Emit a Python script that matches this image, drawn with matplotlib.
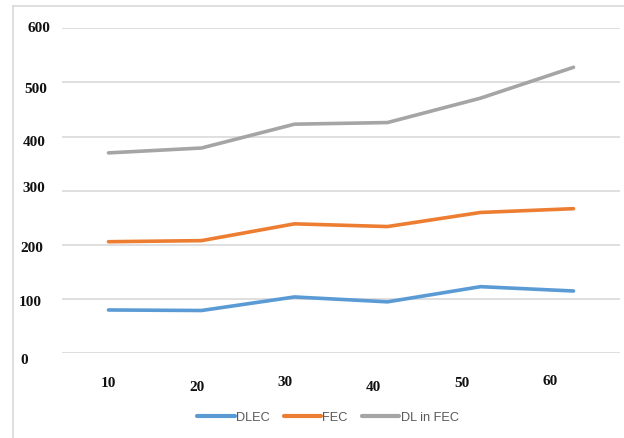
import matplotlib
matplotlib.use("Agg")
import matplotlib.pyplot as plt
import numpy as np
from matplotlib.lines import Line2D
from matplotlib.transforms import blended_transform_factory, ScaledTranslation

# Categories and series values
categories = ["10", "20", "30", "40", "50", "60"]
dlec = [80, 79, 104, 95, 123, 115]
fec = [206, 208, 239, 234, 260, 267]
dl_in_fec = [370, 379, 423, 426, 471, 528]
y_ticks = [0, 100, 200, 300, 400, 500, 600]

series = [
    ("DLEC", dlec, "#5B9BD5"),
    ("FEC", fec, "#ED7D31"),
    ("DL in FEC", dl_in_fec, "#A5A5A5"),
]

W, H, DPI = 624, 439, 100
fig = plt.figure(figsize=(W / DPI, H / DPI), dpi=DPI)
fig.patch.set_facecolor("white")

# Plot area in pixel terms
left_px, right_px, top_px, bottom_px = 62, 620, 29.3, 354.3
ax = fig.add_axes([left_px / W, 1 - bottom_px / H,
                   (right_px - left_px) / W, (bottom_px - top_px) / H])

x = np.arange(len(categories))
for name, vals, color in series:
    ax.plot(x, vals, color=color, lw=2.6, solid_capstyle="round",
            solid_joinstyle="round", label=name, zorder=3)

ax.set_xlim(-0.5, len(categories) - 0.5)
ax.set_ylim(0, 600)
ax.set_yticks(y_ticks)
ax.yaxis.grid(True, color="#D9D9D9", lw=1.2)
ax.set_axisbelow(True)
ax.tick_params(left=False, bottom=False, labelleft=False, labelbottom=False)
for s in ax.spines.values():
    s.set_visible(False)

serif = ["Liberation Serif", "DejaVu Serif"]

# Category labels along the bottom (slightly compressed, staggered row)
x_label_step = 0.95
x_label_dy = [29, 33, 28, 33, 29, 27]
xt = blended_transform_factory(ax.transData, ax.transAxes)
for i, (lab, dy) in enumerate(zip(categories, x_label_dy)):
    ax.text(i * x_label_step, 0, lab,
            transform=xt + ScaledTranslation(0, -dy / DPI, fig.dpi_scale_trans),
            ha="center", va="center", fontsize=11, fontweight="bold",
            family=serif, color="#111111")

# Value labels on the left
y_label_x = [20, 19, 20, 22, 23, 24, 27]
y_label_dy = [6, 2, 3, -3, 5, 6, -0.5]
yt = blended_transform_factory(fig.transFigure, ax.transData)
for v, lx, dy in zip(y_ticks, y_label_x, y_label_dy):
    ax.text(lx / W, v, str(v),
            transform=yt + ScaledTranslation(0, -dy / DPI, fig.dpi_scale_trans),
            ha="left", va="center", fontsize=11, fontweight="bold",
            family=serif, color="#111111")

# Legend
leg = fig.legend(loc="center", bbox_to_anchor=(328 / W, 1 - 418 / H),
                 ncol=3, frameon=False, handlelength=2.9, handletextpad=0.12,
                 columnspacing=1.1,
                 prop={"family": "Liberation Sans", "size": 9.2})
for t in leg.get_texts():
    t.set_color("#595959")
for h in leg.get_lines():
    h.set_linewidth(3)

# Chart frame (top and left edges visible)
fig.add_artist(Line2D([12.5 / W, 12.5 / W], [0, 1 - 6.5 / H], transform=fig.transFigure,
                      color="#D9D9D9", lw=1.2))
fig.add_artist(Line2D([12.5 / W, 1], [1 - 6.5 / H, 1 - 6.5 / H], transform=fig.transFigure,
                      color="#D9D9D9", lw=1.2))

fig.savefig("out.png", dpi=DPI)
